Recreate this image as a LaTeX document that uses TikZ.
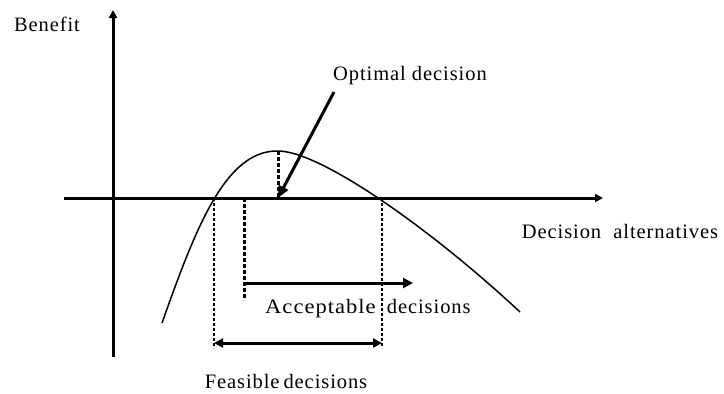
\documentclass[tikz,border=0pt]{standalone}
\usepackage{fontspec}
\usepackage{graphicx}
\setmainfont[LetterSpace=4.5]{Liberation Serif}
\usetikzlibrary{arrows.meta}
\begin{document}
\begin{tikzpicture}[x=1pt,y=-1pt,
  axis/.style={line width=3pt,-{Triangle[length=8pt,width=8pt]}},
  thickdash/.style={line width=3pt,dash pattern=on 4pt off 2pt},
  thindot/.style={line width=1.8pt,dash pattern=on 3pt off 2pt},
  lbl/.style={font=\fontsize{20.5}{24}\selectfont,inner sep=0pt},
  harrow/.style={line width=3pt,-{Triangle[length=10pt,width=10pt]}}]
\useasboundingbox (0,0) rectangle (724,394);
% coordinates
\coordinate (yb) at (113,357);
\coordinate (yt) at (113,10);
\coordinate (xl) at (64,198);
\coordinate (xr) at (603,198);
\coordinate (c0) at (162,323);
\coordinate (peak) at (278,151);
\coordinate (c1) at (520,312);
\coordinate (pk0) at (278,198);
\coordinate (a0) at (244,198);
\coordinate (a1) at (244,300);
\coordinate (as) at (244,283);
\coordinate (ae) at (413,283);
\coordinate (f0) at (214,198);
\coordinate (f1) at (214,348);
\coordinate (g0) at (382,198);
\coordinate (g1) at (382,348);
\coordinate (fs) at (214,343);
\coordinate (fe) at (382,343);
\coordinate (os) at (334,92);
% axes
\draw[axis] (yb) -- (yt);
\draw[axis] (xl) -- (xr);
% curve
\draw[line width=1.5pt] (c0) .. controls (195,230) and (225,150) .. (peak)
  .. controls (320,151) and (430,228) .. (c1);
% dashed
\draw[thickdash] (peak) -- (pk0);
\draw[thickdash] (a0) -- (a1);
\draw[thindot] (f0) -- (f1);
\draw[thindot] (g0) -- (g1);
% arrows
\draw[harrow] (as) -- (ae);
\draw[line width=3pt,{Triangle[length=9pt,width=9pt]}-{Triangle[length=9pt,width=9pt]}] (fs) -- (fe);
\draw[line width=3pt,-{Triangle[length=12pt,width=10pt]}] (os) -- (pk0);
% labels
\node[lbl] (benefit) at (47,24) {Benefit};
\node[lbl] (opt) at (410,76) {Optimal decision};
\node[lbl] (alt) at (620,231) {Decision\hspace{0.3em} alternatives};
\node[lbl,anchor=west] (acc) at (265,309) {\scalebox{1.1}[1]{Acceptable}\hspace{0.25em} decisions};
\node[lbl] (feas) at (286,381) {Feasible\hspace{-0.1em} decisions};
\end{tikzpicture}
\end{document}
